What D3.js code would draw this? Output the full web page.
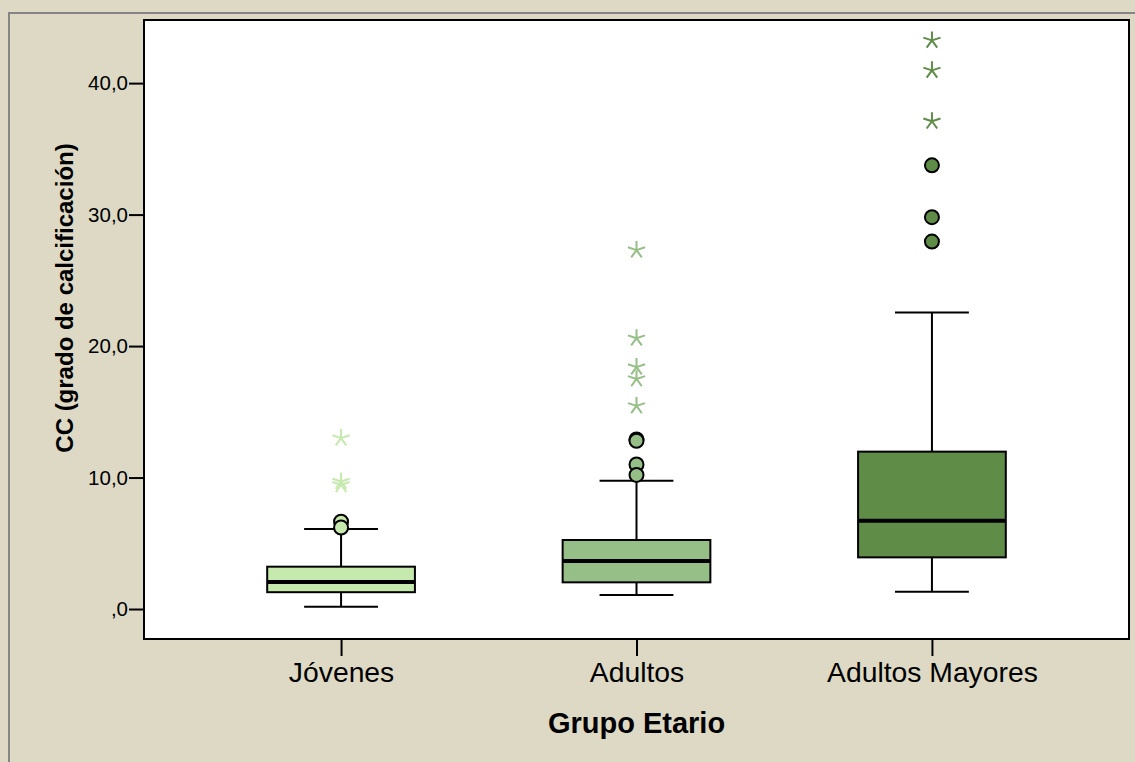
<!DOCTYPE html>
<html>
<head>
<meta charset="utf-8">
<script src="https://cdn.jsdelivr.net/npm/d3@7"></script>
<style>
  html, body { margin: 0; padding: 0; background: #ffffff; }
  svg { display: block; }
</style>
</head>
<body>
<script>
// ---- data ----
const categories = ["Jóvenes", "Adultos", "Adultos Mayores"];
const whiskerLow  = [0.17, 1.07, 1.32];
const q1          = [1.28, 2.03, 3.93];
const median      = [2.05, 3.65, 6.72];
const q3          = [3.22, 5.25, 11.97];
const whiskerHigh = [6.09, 9.76, 22.55];
const outliers = [[6.64, 6.2], [12.9, 12.8, 11.0, 10.2], [33.75, 29.8, 27.95]];
const extremes = [[13.0, 9.7, 9.45], [27.3, 20.6, 18.4, 17.5, 15.45], [43.25, 40.97, 37.1]];
const yTicks = [0, 10, 20, 30, 40];
const fills = ["#c6e9ad", "#96bf87", "#5f8c47"];

const W = 1135, H = 762;
const plot = { left: 144, right: 1129, top: 20, bottom: 639 };

const svg = d3.select("body").append("svg").attr("width", W).attr("height", H);
svg.append("rect").attr("width", W).attr("height", H).attr("fill", "#ddd9c4");
// outer frame (clipped at right/bottom)
svg.append("path").attr("d", `M9,${H} L9,13 L${W},13`).attr("fill", "none")
  .attr("stroke", "#858585").attr("stroke-width", 2);

svg.append("rect").attr("x", plot.left).attr("y", plot.top)
  .attr("width", plot.right - plot.left).attr("height", plot.bottom - plot.top)
  .attr("fill", "#ffffff");

const x = d3.scalePoint().domain(categories).range([plot.left, plot.right]).padding(0.667);
const y = d3.scaleLinear().domain([-2.28, 44.8]).range([plot.bottom, plot.top]);
const boxW = x.step() * 0.5;
const capW = boxW * 0.5;

const font = "'Liberation Sans', Arial, Helvetica, sans-serif";

// axes
const yAxis = d3.axisLeft(y).tickValues(yTicks).tickSize(15).tickPadding(1)
  .tickFormat(d => d === 0 ? ",0" : d.toFixed(1).replace(".", ","));
const gy = svg.append("g").attr("transform", `translate(${plot.left},0)`).call(yAxis);
gy.select(".domain").remove();
gy.selectAll(".tick line").attr("stroke", "#000").attr("stroke-width", 2);
gy.selectAll(".tick text").attr("font-family", font).attr("font-size", 20.5).attr("fill", "#000");

const xAxis = d3.axisBottom(x).tickSize(17).tickPadding(6);
const gx = svg.append("g").attr("transform", `translate(0,${plot.bottom})`).call(xAxis);
gx.select(".domain").remove();
gx.selectAll(".tick line").attr("stroke", "#000").attr("stroke-width", 2);
gx.selectAll(".tick text").attr("font-family", font).attr("font-size", 28.3).attr("fill", "#000");

// boxes
categories.forEach((c, i) => {
  const cx = x(c);
  const g = svg.append("g");
  // whisker lines
  g.append("line").attr("x1", cx).attr("x2", cx).attr("y1", y(q3[i])).attr("y2", y(whiskerHigh[i]))
    .attr("stroke", "#000").attr("stroke-width", 2);
  g.append("line").attr("x1", cx).attr("x2", cx).attr("y1", y(q1[i])).attr("y2", y(whiskerLow[i]))
    .attr("stroke", "#000").attr("stroke-width", 2);
  [whiskerHigh[i], whiskerLow[i]].forEach(v => {
    g.append("line").attr("x1", cx - capW / 2).attr("x2", cx + capW / 2)
      .attr("y1", y(v)).attr("y2", y(v)).attr("stroke", "#000").attr("stroke-width", 2);
  });
  g.append("rect").attr("x", cx - boxW / 2).attr("y", y(q3[i]))
    .attr("width", boxW).attr("height", y(q1[i]) - y(q3[i]))
    .attr("fill", fills[i]).attr("stroke", "#000").attr("stroke-width", 2);
  g.append("line").attr("x1", cx - boxW / 2).attr("x2", cx + boxW / 2)
    .attr("y1", y(median[i])).attr("y2", y(median[i])).attr("stroke", "#000").attr("stroke-width", 4);

  // outliers (circles)
  g.selectAll("circle.o").data(outliers[i]).join("circle")
    .attr("cx", cx).attr("cy", d => y(d)).attr("r", 7)
    .attr("fill", fills[i]).attr("stroke", "#000").attr("stroke-width", 2);

  // extremes (5-armed asterisks)
  const R = 9;
  const starPath = d3.range(5).map(k => {
    const a = -Math.PI / 2 + k * 2 * Math.PI / 5;
    return `M0,0L${(R * Math.cos(a)).toFixed(2)},${(R * Math.sin(a)).toFixed(2)}`;
  }).join("");
  g.selectAll("path.e").data(extremes[i]).join("path")
    .attr("transform", d => `translate(${cx},${y(d)})`)
    .attr("d", starPath).attr("fill", "none")
    .attr("stroke", fills[i]).attr("stroke-width", 2);
});

// plot border
svg.append("rect").attr("x", plot.left).attr("y", plot.top)
  .attr("width", plot.right - plot.left).attr("height", plot.bottom - plot.top)
  .attr("fill", "none").attr("stroke", "#000").attr("stroke-width", 2);

// titles
svg.append("text").attr("x", x(categories[1])).attr("y", 733)
  .attr("text-anchor", "middle").attr("font-family", font).attr("font-weight", "bold")
  .attr("font-size", 29).attr("fill", "#000").text("Grupo Etario");
svg.append("text").attr("transform", `translate(73,298) rotate(-90)`)
  .attr("text-anchor", "middle").attr("font-family", font).attr("font-weight", "bold")
  .attr("font-size", 24).attr("fill", "#000").text("CC (grado de calcificación)");
</script>
</body>
</html>
